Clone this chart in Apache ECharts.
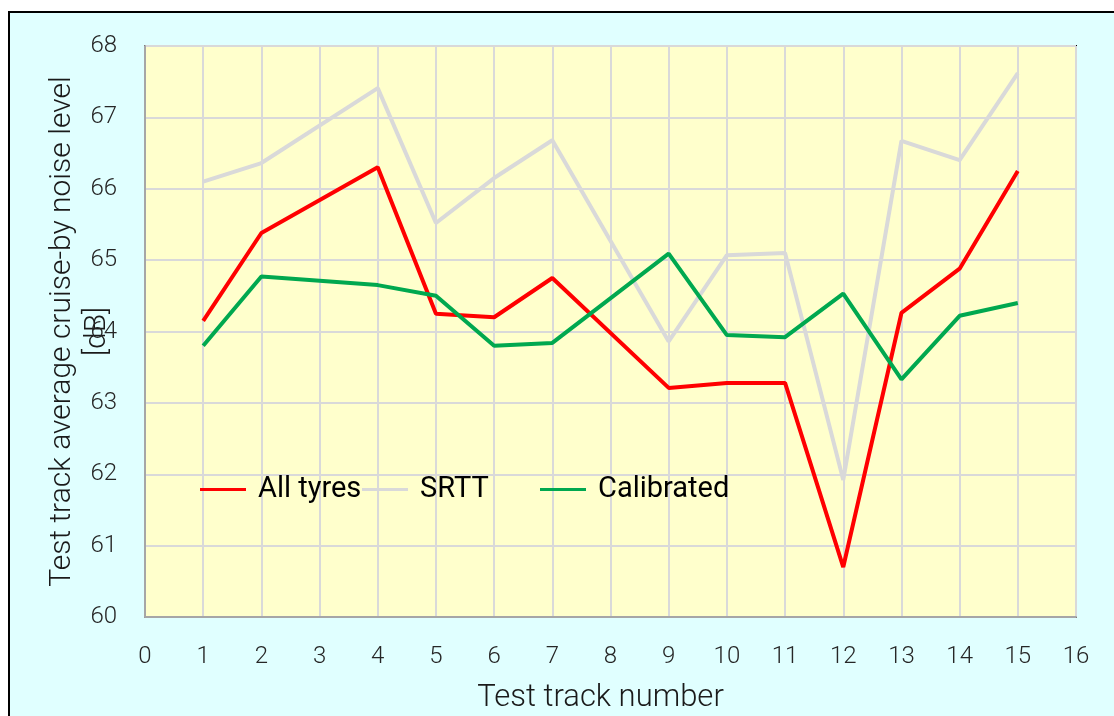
<!DOCTYPE html>
<html>
<head>
<meta charset="utf-8">
<script src="https://cdn.jsdelivr.net/npm/echarts@6/dist/echarts.min.js"></script>
<style>
  html, body { margin: 0; padding: 0; background: #ffffff; }
  #chart { width: 1114px; height: 716px; }
</style>
</head>
<body>
<div id="chart"></div>
<script>
// test tracks 3 and 8 have no measurement, the lines just run across them
var tracks = [1, 2, 3, 4, 5, 6, 7, 8, 9, 10, 11, 12, 13, 14, 15]
var allTyres = [64.15, 65.38, null, 66.30, 64.25, 64.20, 64.75, null, 63.21, 63.28, 63.28, 60.70, 64.26, 64.88, 66.25]
var srtt = [66.10, 66.36, null, 67.41, 65.52, 66.15, 66.68, null, 63.86, 65.07, 65.10, 61.92, 66.67, 66.40, 67.62]
var calibrated = [63.80, 64.77, null, 64.65, 64.50, 63.80, 63.84, null, 65.09, 63.95, 63.92, 64.53, 63.33, 64.22, 64.40]

var seriesNames = ['All tyres', 'SRTT', 'Calibrated']
var seriesColors = ['#ff0000', '#d9d9d9', '#00a84f']
var legendLeft = [195, 357, 535]

var font = 'Roboto'

function pairs(values) {
  return tracks.map(function (t, i) { return [t, values[i]] })
}

// one legend per entry so each one sits where Excel put it
var legends = seriesNames.map(function (name, i) {
  return {
    data: [name],
    left: legendLeft[i],
    top: 470,
    icon: 'rect',
    itemWidth: 46,
    itemHeight: 3,
    textStyle: { fontFamily: font, fontSize: 29, color: '#000000', padding: [0, 0, 0, 7] }
  }
})

var chart = echarts.init(document.getElementById('chart'))

chart.setOption({
  animation: false,
  backgroundColor: '#ffffff',
  textStyle: { fontFamily: font },
  graphic: [{
    type: 'rect',
    z: -10,
    shape: { x: 9, y: 12, width: 1120, height: 720 },
    style: { fill: '#e0ffff', stroke: '#000000', lineWidth: 2 }
  }],
  grid: {
    left: 145,
    right: 38,
    top: 46,
    bottom: 99,
    outerBoundsMode: 'none',
    show: true,
    backgroundColor: '#ffffcc',
    borderColor: '#000000',
    borderWidth: 2
  },
  legend: legends,
  xAxis: {
    type: 'value',
    min: 0,
    max: 16,
    interval: 1,
    name: 'Test track number',
    nameLocation: 'middle',
    nameGap: 66,
    nameMoveOverlap: false,
    nameTextStyle: { fontFamily: font, fontSize: 31, fontWeight: 300, color: '#1a1a1a', padding: [0, 20, 0, 0] },
    axisLine: { show: true, lineStyle: { color: '#a6a6a6', width: 2 } },
    axisTick: { show: false },
    axisLabel: { margin: 28, fontSize: 24, fontWeight: 300, color: '#262626' },
    splitLine: { show: true, lineStyle: { color: '#d9d9d9', width: 2 } }
  },
  yAxis: {
    type: 'value',
    min: 60,
    max: 68,
    interval: 1,
    name: 'Test track average cruise-by noise level\n[dB]',
    nameLocation: 'middle',
    nameRotate: 90,
    nameGap: 30,
    nameMoveOverlap: false,
    nameTextStyle: { fontFamily: font, fontSize: 30, fontWeight: 300, color: '#1a1a1a', lineHeight: 35 },
    axisLine: { show: true, lineStyle: { color: '#a6a6a6', width: 2 } },
    axisTick: { show: false },
    axisLabel: { margin: 28, fontSize: 24, fontWeight: 300, color: '#262626' },
    splitLine: { show: true, lineStyle: { color: '#d9d9d9', width: 2 } }
  },
  series: [
    {
      name: seriesNames[0],
      type: 'line',
      data: pairs(allTyres),
      connectNulls: true,
      symbol: 'none',
      lineStyle: { color: seriesColors[0], width: 4 },
      itemStyle: { color: seriesColors[0] }
    },
    {
      name: seriesNames[1],
      type: 'line',
      data: pairs(srtt),
      connectNulls: true,
      symbol: 'none',
      z: 1,
      lineStyle: { color: seriesColors[1], width: 4 },
      itemStyle: { color: seriesColors[1] }
    },
    {
      name: seriesNames[2],
      type: 'line',
      data: pairs(calibrated),
      connectNulls: true,
      symbol: 'none',
      lineStyle: { color: seriesColors[2], width: 4 },
      itemStyle: { color: seriesColors[2] }
    }
  ]
})
</script>
</body>
</html>
